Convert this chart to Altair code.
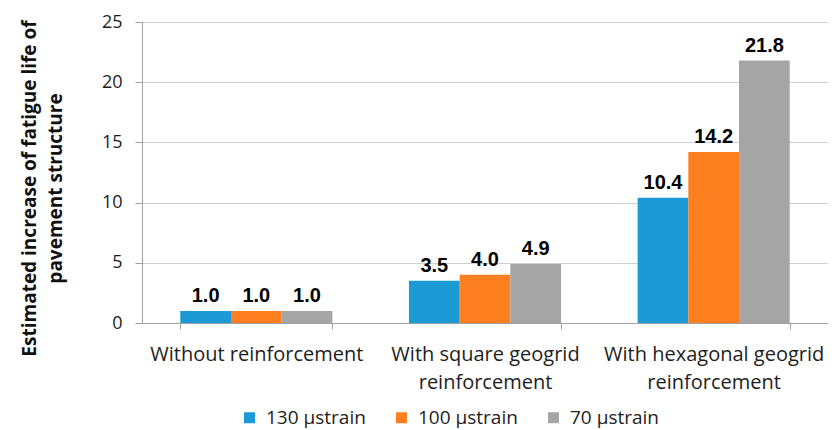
import altair as alt
import pandas as pd

categories = ["Without reinforcement", "With square geogrid reinforcement", "With hexagonal geogrid reinforcement"]
series = ["130 µstrain", "100 µstrain", "70 µstrain"]
values = {
    "130 µstrain": [1.0, 3.5, 10.4],
    "100 µstrain": [1.0, 4.0, 14.2],
    "70 µstrain": [1.0, 4.9, 21.8],
}
colors = ["#1b9ad6", "#fd7f20", "#a5a5a5"]
y_ticks = [0, 5, 10, 15, 20, 25]

rows = []
for s in series:
    for c, v in zip(categories, values[s]):
        rows.append({"category": c, "series": s, "value": v})
df = pd.DataFrame(rows)

label_expr = ("indexof(datum.label, 'With ') == 0 ? "
              "[replace(datum.label, ' reinforcement', ''), 'reinforcement'] : datum.label")

x = alt.X("category:N", sort=categories, title=None,
          scale=alt.Scale(paddingInner=0.335, paddingOuter=0.1675),
          axis=alt.Axis(labelAngle=0, labelExpr=label_expr, labelFont="Open Sans", labelFontSize=20,
                        labelColor="#1e1e1e", labelPadding=15, labelLineHeight=28, labelLimit=400,
                        tickBand="extent", tickColor="#a0a0a0", tickSize=6,
                        domainColor="#a0a0a0", grid=False))
xo = alt.XOffset("series:N", sort=series)
y = alt.Y("value:Q", title=["Estimated increase of fatigue life of", "pavement structure"],
          scale=alt.Scale(domain=[0, 25], nice=False),
          axis=alt.Axis(values=y_ticks, labelFont="Open Sans", labelFontSize=18, labelColor="#1e1e1e",
                        labelPadding=13, tickColor="#a0a0a0", tickSize=7, domainColor="#a0a0a0",
                        gridColor="#cfcfcf", titleFont="Open Sans", titleFontSize=19,
                        titleFontWeight="bold", titleColor="#111111", titlePadding=36,
                        titleLineHeight=26, titleY=166))

color = alt.Color("series:N", sort=series, title=None,
                  scale=alt.Scale(domain=series, range=colors),
                  legend=alt.Legend(orient="none", direction="horizontal", legendX=98, legendY=386,
                                    symbolType="square", symbolSize=121, symbolStrokeWidth=0,
                                    labelFont="Open Sans", labelFontSize=19, labelColor="#1e1e1e",
                                    columnPadding=26, labelOffset=7, padding=0))

base = alt.Chart(df)
bars = base.mark_bar().encode(x=x, xOffset=xo, y=y, color=color)
labels = base.mark_text(font="Liberation Sans", fontSize=20, fontWeight="bold", color="#000000",
                        baseline="alphabetic", dy=-9).encode(
    x=alt.X("category:N", sort=categories), xOffset=xo, y="value:Q",
    text=alt.Text("value:Q", format=".1f"))

chart = (bars + labels).properties(
    width=686, height=301,
    autosize=alt.AutoSizeParams(type="none"),
    padding={"top": 14, "left": 134, "right": 0, "bottom": 107},
).configure_view(stroke=None).configure(background="white")
chart.save("out.html", embed_options={"renderer": "svg", "actions": False})
